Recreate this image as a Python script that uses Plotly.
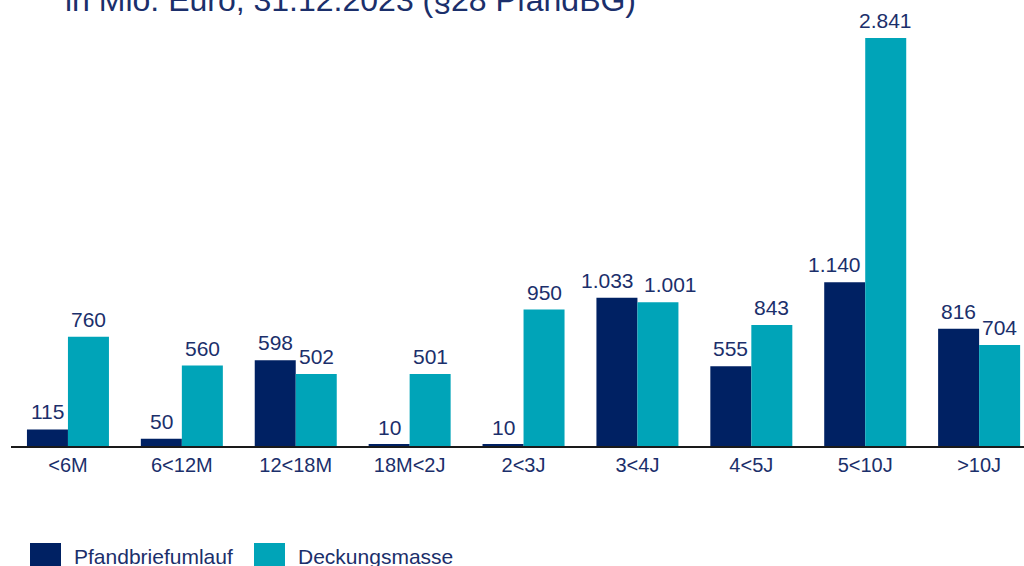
import plotly.graph_objects as go

categories = ["<6M", "6<12M", "12<18M", "18M<2J", "2<3J", "3<4J", "4<5J", "5<10J", ">10J"]
pfandbriefumlauf = [115, 50, 598, 10, 10, 1033, 555, 1140, 816]
deckungsmasse = [760, 560, 502, 501, 950, 1001, 843, 2841, 704]
series_names = ["Pfandbriefumlauf", "Deckungsmasse"]
title_text = "in Mio. Euro, 31.12.2023 (§28 PfandBG)"

DARK = "#002163"
TEAL = "#00A4B8"
TXT = "#1B2F6B"
FONT = "Liberation Sans, Arial, sans-serif"

def de(v):
    return f"{v:,}".replace(",", ".")

x = list(range(len(categories)))
BARGAP = 0.28
half = (1 - BARGAP) / 4  # offset of each bar centre from category centre

fig = go.Figure()
for vals, name, col in [(pfandbriefumlauf, series_names[0], DARK),
                        (deckungsmasse, series_names[1], TEAL)]:
    fig.add_trace(go.Bar(x=x, y=vals, name=name, marker_color=col,
                         marker_line_width=0, hovertext=[de(v) for v in vals]))

# value labels (shifted sideways where neighbouring labels would collide, as in the original)
label_shift = {("3<4J", 0): -9, ("3<4J", 1): 13, ("5<10J", 0): -10}
for s, vals in enumerate([pfandbriefumlauf, deckungsmasse]):
    for i, v in enumerate(vals):
        fig.add_annotation(x=i + (-half if s == 0 else half), y=v, xref="x", yref="y",
                           text=de(v), showarrow=False, xanchor="center", yanchor="bottom",
                           xshift=label_shift.get((categories[i], s), 0), yshift=4,
                           font=dict(size=21, color=TXT, family=FONT))

H_PLOT = 446.0
def py(p):
    return (H_PLOT - p) / H_PLOT

def px(p):
    return (p - 11) / 1013

fig.update_layout(
    width=1024, height=566,
    margin=dict(l=11, r=0, t=0, b=120),
    paper_bgcolor="white", plot_bgcolor="white",
    barmode="group", bargap=BARGAP, bargroupgap=0,
    showlegend=False,
    font=dict(family=FONT, color=TXT),
    xaxis=dict(range=[-0.5, 8.394], tickmode="array", tickvals=x, ticktext=categories,
               showline=True, linecolor="#1a1a1a", linewidth=2, ticks="",
               tickfont=dict(size=20, color=TXT, family=FONT), showgrid=False,
               zeroline=False),
    yaxis=dict(range=[0, 3106], visible=False, showgrid=False, zeroline=False),
)

fig.add_annotation(text=title_text, xref="paper", yref="paper", x=px(63),
                   y=py(20), xanchor="left", yanchor="bottom", showarrow=False,
                   font=dict(size=32, color=TXT, family=FONT))

# custom legend
leg = [(30, 61, 72, DARK, series_names[0]), (254, 285, 296, TEAL, series_names[1])]
for x0, x1, tx, col, name in leg:
    fig.add_shape(type="rect", xref="paper", yref="paper",
                  x0=px(x0), x1=px(x1), y0=py(543), y1=py(570),
                  fillcolor=col, line_width=0)
    fig.add_annotation(text=name, xref="paper", yref="paper", x=px(tx),
                       y=py(556), xanchor="left", yanchor="middle", showarrow=False,
                       font=dict(size=21, color=TXT, family=FONT))

fig.write_html("out.html")
